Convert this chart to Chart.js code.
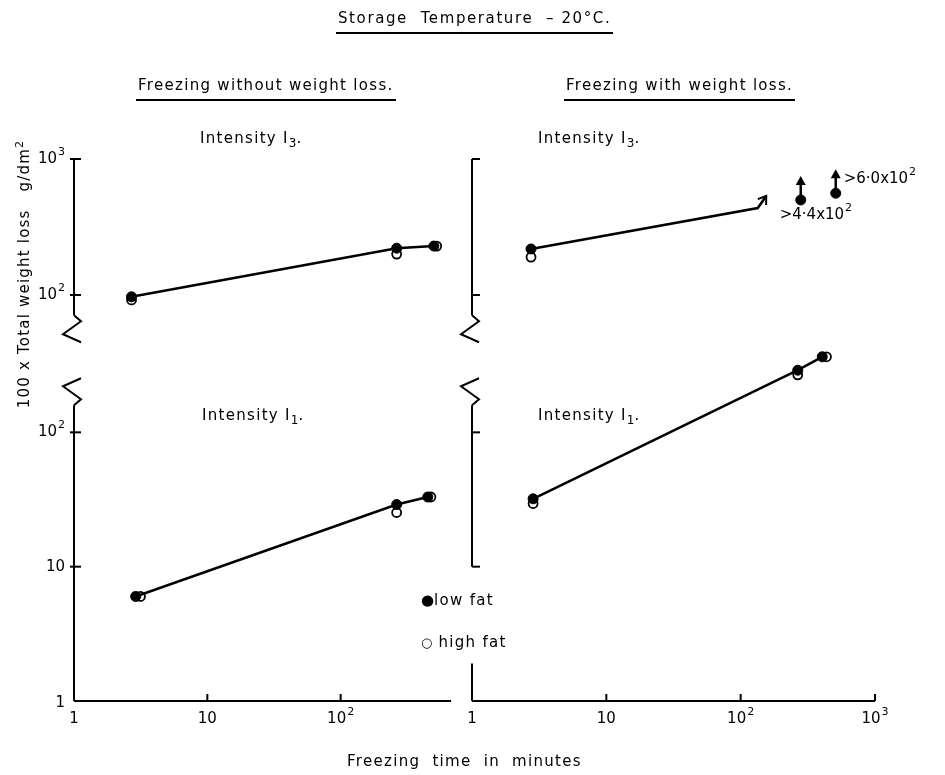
<!DOCTYPE html>
<html lang="en">
<head>
<meta charset="UTF-8">
<title>Storage Temperature - 20°C</title>
<script src="https://cdn.jsdelivr.net/npm/chart.js@4.4.1/dist/chart.umd.min.js"></script>
<style>
  body { margin: 0; background: #fff; }
  #wrap { position: relative; width: 945px; height: 775px; background: #fff;
          font-family: "DejaVu Sans", sans-serif; color: #000; }
  #wrap canvas { position: absolute; left: 0; top: 0; }
  .lbl { position: absolute; white-space: nowrap; font-size: 15px; line-height: 18px; letter-spacing: 1.3px; }
  .ul { border-bottom: 2px solid #000; padding: 0 2px 5px 2px; }
  .lbl sub { font-size: 12px; letter-spacing: 0; }
</style>
</head>
<body>
<div id="wrap">
  <canvas id="pA" width="945" height="775"></canvas>
  <canvas id="pB" width="945" height="775"></canvas>
  <canvas id="pC" width="945" height="775"></canvas>
  <canvas id="pD" width="945" height="775"></canvas>

  <div class="lbl ul" style="left:336px;top:9px;letter-spacing:1.6px">Storage&nbsp; Temperature &nbsp;– 20°C.</div>
  <div class="lbl ul" style="left:136px;top:76px">Freezing without weight loss.</div>
  <div class="lbl ul" style="left:564px;top:76px">Freezing with weight loss.</div>

  <div class="lbl" style="left:200px;top:129px">Intensity I<sub>3</sub>.</div>
  <div class="lbl" style="left:538px;top:129px">Intensity I<sub>3</sub>.</div>
  <div class="lbl" style="left:202px;top:406px">Intensity I<sub>1</sub>.</div>
  <div class="lbl" style="left:538px;top:406px">Intensity I<sub>1</sub>.</div>

  <div class="lbl" style="left:421px;top:591px"><span style="font-size:15px;letter-spacing:0">●</span>low fat</div>
  <div class="lbl" style="left:421px;top:633px"><span style="font-size:13px;letter-spacing:0">○</span> high fat</div>

  <div class="lbl" style="left:-128px;top:263px;width:300px;text-align:center;letter-spacing:1.2px;transform:rotate(-90deg)">100 x Total weight loss&nbsp;&nbsp; g/dm<sup style="font-size:11px">2</sup></div>
  <div class="lbl" style="left:347px;top:752px">Freezing&nbsp; time&nbsp; in&nbsp; minutes</div>
</div>

<script>
// ---- data (freezing time in minutes, 100 x total weight loss g/dm2) ----
const timeTicksLeft = [10, 100];
const timeLabelsLeft = [1, 10, 100];
const timeTicksRight = [10, 100, 1000];
const timeLabelsRight = [1, 10, 100, 1000];
const lossTicksUpper = [100, 1000];
const lossTicksLower = [10, 100];
const lossLabelsLower = [1, 10, 100];
// [base, exponent]
const tickText = { 1: ['1', ''], 10: ['10', ''], 100: ['10', '2'], 1000: ['10', '3'] };

// freezing without weight loss, intensity I3
const woI3LowTime = [2.7, 263, 500];
const woI3LowLoss = [97, 221, 229];
const woI3HighTime = [2.7, 263, 525];
const woI3HighLoss = [92, 200, 229];
// freezing without weight loss, intensity I1
const woI1LowTime = [2.9, 263, 450];
const woI1LowLoss = [6.0, 29, 33];
const woI1HighTime = [3.15, 263, 475];
const woI1HighLoss = [6.0, 25.3, 33];
// freezing with weight loss, intensity I3
const wI3LowTime = [2.75];
const wI3LowLoss = [218];
const wI3HighTime = [2.75];
const wI3HighLoss = [190];
const wI3TrendTime = [2.75, 134, 155];
const wI3TrendLoss = [218, 436, 535];
const wI3OverTime = [280, 510];
const wI3OverLoss = [500, 560];
const wI3OverText = [['>4·4x10', '2'], ['>6·0x10', '2']];
// freezing with weight loss, intensity I1
const wI1LowTime = [2.85, 266, 405];
const wI1LowLoss = [32, 290, 365];
const wI1HighTime = [2.85, 266, 435];
const wI1HighLoss = [29.5, 268, 365];

// axis extents (data units)
const leftTimeEnd = 673;
const upperLossBottom = 71;
const lowerLossTop = 159;
const rightStubTop = 1.9;

const ink = '#000';
const pts = (xs, ys) => xs.map((x, i) => ({ x: x, y: ys[i] }));

const lowSet = (xs, ys, line) => ({
  data: pts(xs, ys), showLine: line, borderColor: ink, borderWidth: 2.5,
  pointRadius: 5, pointBackgroundColor: ink, pointBorderColor: ink, pointBorderWidth: 1, order: 0
});
const highSet = (xs, ys) => ({
  data: pts(xs, ys), showLine: false, pointRadius: 4.5,
  pointBackgroundColor: '#fff', pointBorderColor: ink, pointBorderWidth: 1.8, order: 1
});

function zig(ctx, x, y, dir) {
  // axis break mark, dir 1 = below the axis end, -1 = above
  ctx.beginPath();
  ctx.moveTo(x, y);
  ctx.lineTo(x + 7, y + 6 * dir);
  ctx.lineTo(x - 11, y + 19 * dir);
  ctx.lineTo(x + 7, y + 27 * dir);
  ctx.stroke();
}

// text with raised exponent; align 'left' | 'right' | 'center' on the whole string
function powText(ctx, parts, x, y, align) {
  ctx.font = '15px "DejaVu Sans"';
  const wb = ctx.measureText(parts[0]).width;
  ctx.font = '11px "DejaVu Sans"';
  const we = parts[1] ? ctx.measureText(parts[1]).width + 1 : 0;
  let left = x;
  if (align === 'right') left = x - wb - we;
  if (align === 'center') left = x - (wb + we) / 2;
  ctx.textAlign = 'left'; ctx.textBaseline = 'middle';
  ctx.font = '15px "DejaVu Sans"';
  ctx.fillText(parts[0], left, y);
  if (parts[1]) {
    ctx.font = '11px "DejaVu Sans"';
    ctx.fillText(parts[1], left + wb + 1, y - 7);
  }
}

const framePlugin = {
  id: 'frame',
  afterDatasetsDraw(chart, args, o) {
    const ctx = chart.ctx;
    const sx = chart.scales.x, sy = chart.scales.y;
    const x0 = sx.getPixelForValue(1);
    ctx.save();
    ctx.strokeStyle = ink; ctx.fillStyle = ink;
    ctx.lineWidth = 2; ctx.lineJoin = 'miter';
    (o.yAxes || []).forEach(a => {
      const yT = sy.getPixelForValue(a.to), yB = sy.getPixelForValue(a.from);
      ctx.beginPath(); ctx.moveTo(x0, yT); ctx.lineTo(x0, yB); ctx.stroke();
      (a.ticks || []).forEach(t => {
        const y = sy.getPixelForValue(t);
        ctx.beginPath(); ctx.moveTo(x0 + a.tickIn[0], y); ctx.lineTo(x0 + a.tickIn[1], y); ctx.stroke();
      });
      (a.labels || []).forEach(t => powText(ctx, tickText[t], x0 - 9, sy.getPixelForValue(t) + (t === 1 ? 2 : 0), 'right'));
      if (a.breakBelow) zig(ctx, x0, yB, 1);
      if (a.breakAbove) zig(ctx, x0, yT, -1);
    });
    if (o.xAxis) {
      const a = o.xAxis, y = sy.getPixelForValue(1);
      ctx.beginPath(); ctx.moveTo(x0, y); ctx.lineTo(sx.getPixelForValue(a.to), y); ctx.stroke();
      a.ticks.forEach(t => {
        const x = sx.getPixelForValue(t);
        ctx.beginPath(); ctx.moveTo(x, y); ctx.lineTo(x, y - 7); ctx.stroke();
      });
      a.labels.forEach(t => powText(ctx, tickText[t], sx.getPixelForValue(t), y + 18, 'center'));
    }
    if (o.trendArrow) {
      const d = chart.getDatasetMeta(o.trendArrow).data;
      const p = d[d.length - 1], q = d[d.length - 2];
      const ang = Math.atan2(p.y - q.y, p.x - q.x);
      ctx.beginPath();
      ctx.moveTo(p.x - 9 * Math.cos(ang - 0.6), p.y - 9 * Math.sin(ang - 0.6));
      ctx.lineTo(p.x, p.y);
      ctx.lineTo(p.x - 9 * Math.cos(ang + 0.6), p.y - 9 * Math.sin(ang + 0.6));
      ctx.stroke();
    }
    if (o.over) {
      const d = chart.getDatasetMeta(o.over.dataset).data;
      d.forEach((p, i) => {
        ctx.lineWidth = 2.5;
        ctx.beginPath(); ctx.moveTo(p.x, p.y - 4); ctx.lineTo(p.x, p.y - 17); ctx.stroke();
        ctx.beginPath(); ctx.moveTo(p.x, p.y - 24); ctx.lineTo(p.x - 5, p.y - 15); ctx.lineTo(p.x + 5, p.y - 15); ctx.closePath(); ctx.fill();
        const off = o.over.offsets[i];
        powText(ctx, o.over.text[i], p.x + off[0], p.y + off[1], 'left');
      });
    }
    ctx.restore();
  }
};

function panel(id, datasets, box, yMin, yMax, frame) {
  return new Chart(document.getElementById(id), {
    type: 'scatter',
    data: { datasets: datasets },
    options: {
      responsive: false,
      animation: false,
      layout: { padding: box },
      plugins: { legend: { display: false }, tooltip: { enabled: false }, frame: frame },
      scales: {
        x: { type: 'logarithmic', min: 1, max: 1000, display: false },
        y: { type: 'logarithmic', min: yMin, max: yMax, display: false }
      },
      elements: { line: { tension: 0 } },
      datasets: { scatter: { clip: false } }
    },
    plugins: [framePlugin]
  });
}

// chart areas: x 1..1000, upper y 100..1000, lower y 1..1000
const leftBox = { left: 74, right: 471 };
const rightBox = { left: 472, right: 70 };
const upperBox = { top: 159, bottom: 480 };
const lowerBox = { top: 298, bottom: 74 };

panel('pA', [lowSet(woI3LowTime, woI3LowLoss, true), highSet(woI3HighTime, woI3HighLoss)],
  Object.assign({}, leftBox, upperBox), 100, 1000,
  { yAxes: [{ from: upperLossBottom, to: 1000, ticks: lossTicksUpper, labels: lossTicksUpper, tickIn: [-4, 7], breakBelow: true }] });

panel('pB', [
    lowSet(wI3LowTime, wI3LowLoss, false),
    highSet(wI3HighTime, wI3HighLoss),
    { data: pts(wI3TrendTime, wI3TrendLoss), showLine: true, borderColor: ink, borderWidth: 2.5, pointRadius: 0, order: 2 },
    lowSet(wI3OverTime, wI3OverLoss, false)
  ],
  Object.assign({}, rightBox, upperBox), 100, 1000,
  { yAxes: [{ from: upperLossBottom, to: 1000, ticks: lossTicksUpper, tickIn: [0, 8], breakBelow: true }],
    trendArrow: 2,
    over: { dataset: 3, text: wI3OverText, offsets: [[-21, 15], [8, -14]] } });

panel('pC', [lowSet(woI1LowTime, woI1LowLoss, true), highSet(woI1HighTime, woI1HighLoss)],
  Object.assign({}, leftBox, lowerBox), 1, 1000,
  { yAxes: [{ from: 1, to: lowerLossTop, ticks: lossTicksLower, labels: lossLabelsLower, tickIn: [-4, 7], breakAbove: true }],
    xAxis: { to: leftTimeEnd, ticks: timeTicksLeft, labels: timeLabelsLeft } });

panel('pD', [lowSet(wI1LowTime, wI1LowLoss, true), highSet(wI1HighTime, wI1HighLoss)],
  Object.assign({}, rightBox, lowerBox), 1, 1000,
  { yAxes: [{ from: 10, to: lowerLossTop, ticks: lossTicksLower, tickIn: [0, 8], breakAbove: true },
            { from: 1, to: rightStubTop }],
    xAxis: { to: 1000, ticks: timeTicksRight, labels: timeLabelsRight } });
</script>
</body>
</html>
